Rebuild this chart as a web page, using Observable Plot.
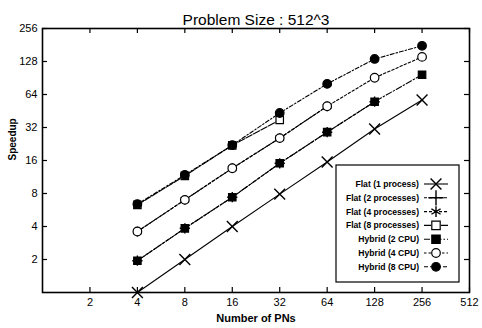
<!DOCTYPE html>
<html><head><meta charset="utf-8">
<script src="https://cdn.jsdelivr.net/npm/d3@7"></script>
<script src="https://cdn.jsdelivr.net/npm/@observablehq/plot@0.6"></script>
<style>body{margin:0;background:#fff;} svg{font-family:"Liberation Sans",Arial,sans-serif;}</style>
</head><body><div id="chart"></div>
<script>
const title = "Problem Size : 512^3";
const xLabel = "Number of PNs";
const yLabel = "Speedup";
const xTicks = [2, 4, 8, 16, 32, 64, 128, 256, 512];
const yTicks = [2, 4, 8, 16, 32, 64, 128, 256];
const pns = [4, 8, 16, 32, 64, 128, 256];
const seriesNames = ["Flat (1 process)", "Flat (2 processes)", "Flat (4 processes)", "Flat (8 processes)", "Hybrid (2 CPU)", "Hybrid (4 CPU)", "Hybrid (8 CPU)"];
const flat1 = [1, 2, 4, 7.9, 15.5, 31, 57];
const flat2 = [1.95, 3.85, 7.4, 15.1, 29, 55];
const flat4 = [3.6, 7.0, 13.6, 25.6, 50];
const flat8 = [6.3, 11.6, 22, 37.5];
const hybrid2 = [1.95, 3.85, 7.4, 15.1, 29, 55, 97];
const hybrid4 = [3.6, 7.0, 13.6, 25.6, 50, 91, 141];
const hybrid8 = [6.4, 11.8, 22.1, 43.4, 80, 135, 178];

const styles = [
  {symbol: "times", fill: "none", dash: null},
  {symbol: "plus", fill: "none", dash: "3,2"},
  {symbol: "asterisk", fill: "none", dash: "3,2"},
  {symbol: "square", fill: "white", dash: "7,1.5"},
  {symbol: "square", fill: "black", dash: "6,2,1.5,2"},
  {symbol: "circle", fill: "white", dash: "2.5,2"},
  {symbol: "circle", fill: "black", dash: "4,2,1.5,2"}
];
const allValues = [flat1, flat2, flat4, flat8, hybrid2, hybrid4, hybrid8];
const data = [];
allValues.forEach((vals, s) => vals.forEach((v, i) => data.push({series: s, name: seriesNames[s], pn: pns[i], speedup: v})));

const W = 482, H = 328, mL = 42, mR = 13, mT = 28, mB = 36;
const innerH = H - mT - mB, innerW = W - mL - mR;
const rOf = sym => sym === "square" ? 4.2 : (sym === "circle" ? 4.3 : 5);
const plotR = sym => sym === "plus" ? 3.4 : (sym === "asterisk" ? 4.6 : rOf(sym));
const swOf = sym => (sym === "times" || sym === "plus" || sym === "asterisk") ? 1.4 : 1.2;

const marks = [];
allValues.forEach((vals, s) => {
  const d = data.filter(r => r.series === s);
  marks.push(Plot.line(d, {x: "pn", y: "speedup", stroke: "black", strokeWidth: 1.1, strokeDasharray: styles[s].dash}));
});
allValues.forEach((vals, s) => {
  const d = data.filter(r => r.series === s);
  const st = styles[s];
  marks.push(Plot.dot(d, {x: "pn", y: "speedup", symbol: () => st.symbol, r: plotR(st.symbol),
    stroke: "black", strokeWidth: swOf(st.symbol), fill: st.fill}));
});

const plot = Plot.plot({
  width: W, height: H, marginLeft: mL, marginRight: mR, marginTop: mT, marginBottom: mB,
  style: {fontSize: "11px", color: "black", background: "white"},
  x: {type: "log", domain: [1, 512], axis: null},
  y: {type: "log", domain: [1, 256], axis: null},
  marks: [
    Plot.ruleX(xTicks, {x: d => d, insetTop: innerH - 5, stroke: "black", strokeWidth: 1.2}),
    Plot.ruleX(xTicks, {x: d => d, insetBottom: innerH - 5, stroke: "black", strokeWidth: 1.2}),
    Plot.ruleY(yTicks, {y: d => d, insetRight: innerW - 5, stroke: "black", strokeWidth: 1.2}),
    Plot.ruleY(yTicks, {y: d => d, insetLeft: innerW - 5, stroke: "black", strokeWidth: 1.2}),
    Plot.text(xTicks, {x: d => d, text: d => String(d), frameAnchor: "bottom", dy: 13, fontSize: 11, fill: "black"}),
    Plot.text(yTicks, {y: d => d, text: d => String(d), frameAnchor: "left", dx: -5, textAnchor: "end", fontSize: 11, fill: "black"}),
    ...marks,
    Plot.frame({stroke: "black", strokeWidth: 1.6}),
    Plot.text([title], {frameAnchor: "top", dy: -15, fontSize: 15.5, fill: "black"}),
    Plot.text([xLabel], {frameAnchor: "bottom", dy: 29, fontSize: 11, fontWeight: "bold", fill: "black"}),
    Plot.text([yLabel], {frameAnchor: "left", dx: -30, rotate: -90, fontSize: 10, fontWeight: "bold", fill: "black"})
  ]
});
document.getElementById("chart").appendChild(plot);

// Legend
const svg = d3.select(plot);
const lg = svg.append("g");
const bx = 336, by = 165, bw = 123, bh = 117;
lg.append("rect").attr("x", bx).attr("y", by).attr("width", bw).attr("height", bh).attr("fill", "white").attr("stroke", "black").attr("stroke-width", 1.2);
const symMap = {times: d3.symbolTimes, plus: d3.symbolPlus, asterisk: d3.symbolAsterisk, square: d3.symbolSquare, circle: d3.symbolCircle};
seriesNames.forEach((name, i) => {
  const y = 184 + i * 13.8;
  const st = styles[i];
  lg.append("text").attr("x", 419).attr("y", y).attr("dy", "0.35em").attr("text-anchor", "end")
    .attr("font-size", 8.6).attr("font-weight", "bold").attr("fill", "black").text(name);
  lg.append("line").attr("x1", 424).attr("x2", 448).attr("y1", y).attr("y2", y).attr("stroke", "black").attr("stroke-width", 1.1)
    .attr("stroke-dasharray", st.dash);
  const r = rOf(st.symbol);
  const size = st.symbol === "square" ? (2*r)**2 : Math.PI * r * r;
  lg.append("path").attr("d", d3.symbol(symMap[st.symbol], size)()).attr("transform", `translate(436,${y})`)
    .attr("fill", st.fill).attr("stroke", "black").attr("stroke-width", swOf(st.symbol));
});
</script></body></html>
